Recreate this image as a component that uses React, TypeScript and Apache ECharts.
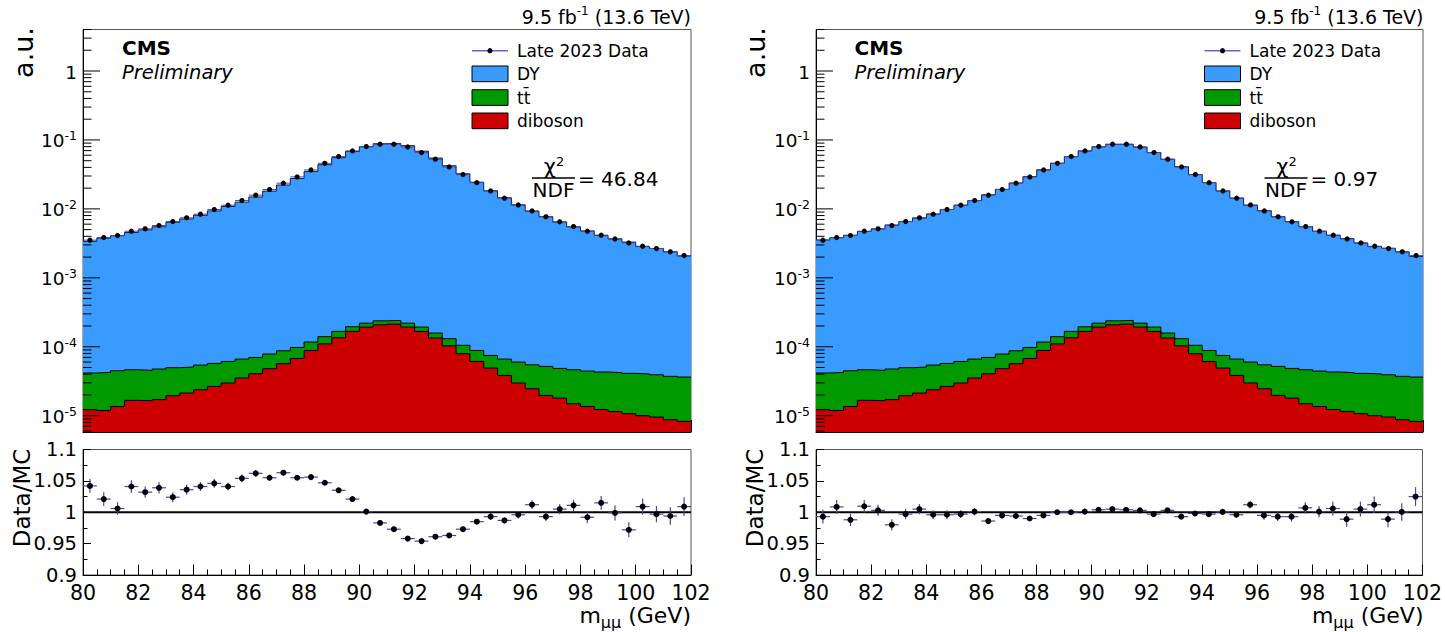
import React, { useEffect, useRef } from 'react';
import * as echarts from 'echarts';

// ---------- data ----------
const binHalfWidth = 0.25;
const massBinCenters = Array.from({ length: 44 }, (_, i) => 80.25 + 0.5 * i);
const massTicks = [80, 82, 84, 86, 88, 90, 92, 94, 96, 98, 100, 102];
const logTickExponents = [-5, -4, -3, -2, -1, 0];
const ratioTicks = [0.9, 0.95, 1, 1.05, 1.1];

const dataLate2023 = [3.52e-3, 3.84e-3, 4.10e-3, 4.74e-3, 5.13e-3, 5.73e-3, 6.55e-3, 7.41e-3, 8.38e-3, 9.77e-3, 1.13e-2, 1.32e-2, 1.58e-2, 1.91e-2, 2.36e-2, 2.91e-2, 3.67e-2, 4.59e-2, 5.73e-2, 6.93e-2, 8.0e-2, 8.67e-2, 8.67e-2, 7.9e-2, 6.55e-2, 5.25e-2, 4.06e-2, 3.14e-2, 2.40e-2, 1.82e-2, 1.43e-2, 1.14e-2, 9.35e-3, 7.66e-3, 6.48e-3, 5.55e-3, 4.74e-3, 4.16e-3, 3.67e-3, 3.21e-3, 2.87e-3, 2.66e-3, 2.38e-3, 2.10e-3];

const dyLeft = [3.34e-3, 3.72e-3, 4.04e-3, 4.50e-3, 4.92e-3, 5.46e-3, 6.35e-3, 7.10e-3, 8.00e-3, 9.28e-3, 1.079e-2, 1.245e-2, 1.481e-2, 1.802e-2, 2.211e-2, 2.75e-2, 3.463e-2, 4.366e-2, 5.523e-2, 6.77e-2, 7.968e-2, 8.796e-2, 8.886e-2, 8.228e-2, 6.851e-2, 5.444e-2, 4.207e-2, 3.22e-2, 2.431e-2, 1.823e-2, 1.443e-2, 1.139e-2, 9.185e-3, 7.66e-3, 6.40e-3, 5.44e-3, 4.74e-3, 4.06e-3, 3.63e-3, 3.26e-3, 2.80e-3, 2.63e-3, 2.35e-3, 2.04e-3];

const dyRight = [3.50e-3, 3.77e-3, 4.10e-3, 4.65e-3, 5.07e-3, 5.80e-3, 6.52e-3, 7.32e-3, 8.36e-3, 9.75e-3, 1.127e-2, 1.312e-2, 1.595e-2, 1.912e-2, 2.365e-2, 2.929e-2, 3.676e-2, 4.576e-2, 5.713e-2, 6.903e-2, 7.946e-2, 8.603e-2, 8.611e-2, 7.854e-2, 6.551e-2, 5.218e-2, 4.076e-2, 3.136e-2, 2.398e-2, 1.812e-2, 1.429e-2, 1.121e-2, 9.34e-3, 7.66e-3, 6.48e-3, 5.47e-3, 4.69e-3, 4.09e-3, 3.67e-3, 3.15e-3, 2.80e-3, 2.65e-3, 2.34e-3, 2.01e-3];

const ttbar = [2.94e-5, 3.06e-5, 3.13e-5, 2.97e-5, 2.89e-5, 3.04e-5, 3.02e-5, 2.95e-5, 3.04e-5, 3.07e-5, 3.14e-5, 3.10e-5, 2.94e-5, 3.03e-5, 3.08e-5, 3.01e-5, 2.87e-5, 3.0e-5, 3.2e-5, 2.8e-5, 2.7e-5, 3.0e-5, 2.8e-5, 2.7e-5, 2.6e-5, 2.4e-5, 2.8e-5, 2.58e-5, 2.71e-5, 2.57e-5, 2.78e-5, 3.02e-5, 3.02e-5, 3.22e-5, 3.05e-5, 3.15e-5, 3.08e-5, 3.07e-5, 3.06e-5, 3.04e-5, 3.03e-5, 2.97e-5, 2.85e-5, 2.81e-5];

const diboson = [1.22e-5, 1.19e-5, 1.36e-5, 1.67e-5, 1.65e-5, 1.71e-5, 1.95e-5, 2.13e-5, 2.38e-5, 2.66e-5, 2.98e-5, 3.52e-5, 4.06e-5, 4.80e-5, 5.67e-5, 6.76e-5, 8.83e-5, 1.10e-4, 1.35e-4, 1.67e-4, 1.93e-4, 2.08e-4, 2.13e-4, 1.93e-4, 1.67e-4, 1.34e-4, 1.03e-4, 7.92e-5, 6.12e-5, 4.91e-5, 3.84e-5, 2.98e-5, 2.46e-5, 1.97e-5, 1.80e-5, 1.49e-5, 1.36e-5, 1.23e-5, 1.15e-5, 1.07e-5, 1.0e-5, 9.57e-6, 8.75e-6, 8.27e-6];

const ratioLeft = [1.042, 1.021, 1.006, 1.041, 1.032, 1.039, 1.024, 1.036, 1.041, 1.046, 1.041, 1.054, 1.062, 1.055, 1.063, 1.055, 1.056, 1.047, 1.035, 1.021, 1.001, 0.983, 0.973, 0.958, 0.954, 0.961, 0.963, 0.973, 0.985, 0.993, 0.987, 0.996, 1.012, 0.993, 1.005, 1.011, 0.992, 1.015, 0.999, 0.972, 1.009, 0.997, 0.994, 1.009];

const ratioRight = [0.993, 1.0085, 0.988, 1.0096, 1.003, 0.980, 0.997, 1.005, 0.996, 0.996, 0.997, 1.001, 0.986, 0.995, 0.994, 0.990, 0.995, 1.0, 1.0, 1.001, 1.004, 1.005, 1.004, 1.003, 0.997, 1.003, 0.993, 0.998, 0.997, 1.0005, 0.996, 1.012, 0.995, 0.993, 0.993, 1.007, 1.001, 1.006, 0.989, 1.005, 1.012, 0.989, 1.0005, 1.025];

const ratioErr = [0.011, 0.011, 0.010, 0.010, 0.009, 0.009, 0.008, 0.008, 0.007, 0.007, 0.006, 0.006, 0.005, 0.005, 0.004, 0.004, 0.003, 0.003, 0.003, 0.002, 0.002, 0.002, 0.002, 0.002, 0.002, 0.003, 0.003, 0.004, 0.004, 0.005, 0.005, 0.006, 0.007, 0.007, 0.008, 0.009, 0.009, 0.011, 0.012, 0.012, 0.013, 0.013, 0.014, 0.015];

const chi2Left = '46.84';
const chi2Right = '0.97';

// ---------- styling ----------
const FONT = 'DejaVu Sans';
const BLUE = '#3a9bff';
const GREEN = '#009a00';
const RED = '#cc0000';
const ERR = '#4646b0';
const Y_MIN = 5.8e-6;
const Y_MAX = 4;

function stepData(vals: number[]) {
  const pts = vals.map((v, i) => [massBinCenters[i] - binHalfWidth, v]);
  pts.push([massBinCenters[vals.length - 1] + binHalfWidth, vals[vals.length - 1]]);
  return pts;
}

function logTickData() {
  const out: number[][] = [];
  for (let e = -6; e <= 0; e++) {
    for (let k = 1; k <= 9; k++) {
      const v = k * Math.pow(10, e);
      if (v >= Y_MIN && v <= Y_MAX) {
        const major = k === 1 && logTickExponents.includes(e) ? 1 : 0;
        out.push([80, v, major, e]);
      }
    }
  }
  return out;
}

function panelSeries(dy: number[], ratio: number[], gTop: number, gRat: number) {
  const greenTop = diboson.map((d, i) => d + ttbar[i]);
  const total = dy.map((v, i) => v + greenTop[i]);
  return [
    {
      type: 'line', xAxisIndex: gTop, yAxisIndex: gTop, data: stepData(total), step: 'end',
      symbol: 'none', silent: true, lineStyle: { color: '#1a1a40', width: 1 },
      areaStyle: { color: BLUE, opacity: 1, origin: 'start' },
    },
    {
      type: 'line', xAxisIndex: gTop, yAxisIndex: gTop, data: stepData(greenTop), step: 'end',
      symbol: 'none', silent: true, lineStyle: { color: '#000', width: 1 },
      areaStyle: { color: GREEN, opacity: 1, origin: 'start' },
    },
    {
      type: 'line', xAxisIndex: gTop, yAxisIndex: gTop, data: stepData(diboson), step: 'end',
      symbol: 'none', silent: true, lineStyle: { color: '#000', width: 1 },
      areaStyle: { color: RED, opacity: 1, origin: 'start' },
    },
    {
      type: 'custom', xAxisIndex: gTop, yAxisIndex: gTop, silent: true, z: 5,
      data: massBinCenters.map((c, i) => [c, dataLate2023[i]]),
      renderItem: (params: any, api: any) => {
        const x = api.value(0), y = api.value(1);
        const l = api.coord([x - binHalfWidth, y]);
        const r = api.coord([x + binHalfWidth, y]);
        const c = api.coord([x, y]);
        return {
          type: 'group', children: [
            { type: 'line', shape: { x1: l[0], y1: l[1], x2: r[0], y2: r[1] }, style: { stroke: ERR, lineWidth: 1 } },
            { type: 'circle', shape: { cx: c[0], cy: c[1], r: 2.6 }, style: { fill: '#000' } },
          ],
        };
      },
    },
    {
      type: 'custom', xAxisIndex: gTop, yAxisIndex: gTop, silent: true, z: 6,
      data: logTickData(),
      renderItem: (params: any, api: any) => {
        const v = api.value(1);
        const major = api.value(2) === 1;
        const e = api.value(3);
        const p = api.coord([80, v]);
        const children: any[] = [
          { type: 'line', shape: { x1: p[0], y1: p[1], x2: p[0] + (major ? 17 : 8.5), y2: p[1] }, style: { stroke: '#000', lineWidth: 1 } },
        ];
        if (major) {
          children.push({
            type: 'text', x: p[0] - 6, y: p[1] + 1,
            style: {
              text: e === 0 ? '1' : '10{s|-' + (-e) + '}',
              align: 'right', verticalAlign: 'middle', fontSize: 18.5, fontFamily: FONT, fill: '#000',
              lineHeight: 24,
              rich: { s: { fontSize: 12.5, fontFamily: FONT, verticalAlign: 'top', lineHeight: 12, fill: '#000' } },
            },
          });
        }
        return { type: 'group', children };
      },
    },
    {
      type: 'line', xAxisIndex: gRat, yAxisIndex: gRat, data: [[80, 1], [102, 1]],
      symbol: 'none', silent: true, lineStyle: { color: '#000', width: 2 }, z: 3,
    },
    {
      type: 'custom', xAxisIndex: gRat, yAxisIndex: gRat, silent: true, z: 5,
      data: massBinCenters.map((c, i) => [c, ratio[i], ratioErr[i]]),
      renderItem: (params: any, api: any) => {
        const x = api.value(0), y = api.value(1), e = api.value(2);
        const l = api.coord([x - binHalfWidth, y]);
        const r = api.coord([x + binHalfWidth, y]);
        const t = api.coord([x, y + e]);
        const b = api.coord([x, y - e]);
        const c = api.coord([x, y]);
        return {
          type: 'group', children: [
            { type: 'line', shape: { x1: l[0], y1: l[1], x2: r[0], y2: r[1] }, style: { stroke: ERR, lineWidth: 1.2 } },
            { type: 'line', shape: { x1: t[0], y1: t[1], x2: b[0], y2: b[1] }, style: { stroke: ERR, lineWidth: 1.2 } },
            { type: 'circle', shape: { cx: c[0], cy: c[1], r: 3 }, style: { fill: '#000' } },
          ],
        };
      },
    },
  ];
}

function xAxisCfg(gridIndex: number, withLabels: boolean, major: number, minor: number) {
  return {
    type: 'value', gridIndex, min: massTicks[0], max: massTicks[massTicks.length - 1], interval: 2,
    axisLine: { show: true, lineStyle: { color: '#000', width: 1 } },
    axisTick: { show: true, inside: true, length: major, lineStyle: { color: '#000', width: 1 } },
    minorTick: { show: true, splitNumber: 4, length: minor, lineStyle: { color: '#000', width: 1 } },
    splitLine: { show: false }, minorSplitLine: { show: false },
    axisLabel: withLabels
      ? { show: true, fontSize: 20.5, fontFamily: FONT, color: '#000', margin: 7 }
      : { show: false },
  };
}

function logYAxis(gridIndex: number) {
  return {
    type: 'log', logBase: 10, gridIndex, min: Y_MIN, max: Y_MAX,
    axisLine: { show: true, lineStyle: { color: '#000', width: 1 } },
    axisTick: { show: false }, minorTick: { show: false },
    axisLabel: { show: false }, splitLine: { show: false },
  };
}

function ratioYAxis(gridIndex: number) {
  return {
    type: 'value', gridIndex, min: ratioTicks[0], max: ratioTicks[ratioTicks.length - 1], interval: 0.05,
    axisLine: { show: true, lineStyle: { color: '#000', width: 1 } },
    axisTick: { show: true, inside: true, length: 8, lineStyle: { color: '#000', width: 1 } },
    minorTick: { show: true, splitNumber: 2, length: 4.5, lineStyle: { color: '#000', width: 1 } },
    splitLine: { show: false }, minorSplitLine: { show: false },
    axisLabel: { show: true, fontSize: 19.5, fontFamily: FONT, color: '#000', margin: 6 },
  };
}

function txt(x: number, y: number, text: string, extra: any = {}, rot = 0) {
  return {
    type: 'text', x, y, rotation: rot, silent: true,
    style: Object.assign({ text, fill: '#000', fontFamily: FONT, fontSize: 17, align: 'left', verticalAlign: 'middle' }, extra),
  };
}

function panelGraphics(dx: number, chi2: string) {
  const legendX = 472 + dx;
  return [
    txt(23 + dx, 52.5, 'a.u.', { fontSize: 27, align: 'center' }, Math.PI / 2),
    txt(22 + dx, 498, 'Data/MC', { fontSize: 23, align: 'center' }, Math.PI / 2),
    txt(122 + dx, 47.5, 'CMS', { fontSize: 20, fontWeight: 'bold' }),
    txt(122 + dx, 72, 'Preliminary', { fontSize: 19.5, fontStyle: 'italic' }),
    txt(691 + dx, 16.5, '9.5 fb{s|-1} (13.6 TeV)', {
      fontSize: 19, align: 'right', lineHeight: 24,
      rich: { s: { fontSize: 12, fontFamily: FONT, verticalAlign: 'top', lineHeight: 12, fill: '#000' } },
    }),
    { type: 'line', silent: true, shape: { x1: legendX, y1: 50.7, x2: legendX + 36, y2: 50.7 }, style: { stroke: '#6464c8', lineWidth: 1.5 } },
    { type: 'circle', silent: true, shape: { cx: legendX + 18, cy: 50.7, r: 2.6 }, style: { fill: '#000' } },
    txt(517 + dx, 50.5, 'Late 2023 Data'),
    { type: 'rect', silent: true, shape: { x: legendX, y: 66, width: 36, height: 15.7 }, style: { fill: BLUE, stroke: '#000', lineWidth: 1 } },
    txt(517 + dx, 74, 'DY'),
    { type: 'rect', silent: true, shape: { x: legendX, y: 89.7, width: 36, height: 15.7 }, style: { fill: GREEN, stroke: '#000', lineWidth: 1 } },
    txt(517 + dx, 97.5, 't\u0074\u0304'),
    { type: 'rect', silent: true, shape: { x: legendX, y: 113, width: 36, height: 15.7 }, style: { fill: RED, stroke: '#000', lineWidth: 1 } },
    txt(517 + dx, 121, 'diboson'),
    txt(554 + dx, 167, '\u03c7{s|2}', {
      fontSize: 21, align: 'center', lineHeight: 24,
      rich: { s: { fontSize: 13, fontFamily: FONT, verticalAlign: 'top', lineHeight: 13, fill: '#000' } },
    }),
    { type: 'line', silent: true, shape: { x1: 532 + dx, y1: 178, x2: 575 + dx, y2: 178 }, style: { stroke: '#000', lineWidth: 1.5 } },
    txt(553.5 + dx, 190, 'NDF', { fontSize: 20, align: 'center' }),
    txt(578 + dx, 178.5, '= ' + chi2, { fontSize: 20 }),
    txt(691 + dx, 615, 'm{sub|\u03bc\u03bc} (GeV)', {
      fontSize: 22, align: 'right', lineHeight: 30,
      rich: { sub: { fontSize: 16, fontFamily: FONT, verticalAlign: 'bottom', lineHeight: 15, fill: '#000' } },
    }),
  ];
}

export default function App() {
  const ref = useRef<HTMLDivElement>(null);
  useEffect(() => {
    document.body.style.margin = '0';
    const chart = echarts.init(ref.current!, null, { renderer: 'svg' });
    const dxR = 732.5;
    const option: any = {
      animation: false,
      backgroundColor: '#fff',
      grid: [
        { left: 83, top: 29.5, width: 608, height: 402.5, show: true, borderColor: '#555', borderWidth: 1, backgroundColor: 'transparent' },
        { left: 83, top: 449.5, width: 608, height: 125.5, show: true, borderColor: '#555', borderWidth: 1, backgroundColor: 'transparent' },
        { left: 816, top: 29.5, width: 607, height: 402.5, show: true, borderColor: '#555', borderWidth: 1, backgroundColor: 'transparent' },
        { left: 816, top: 449.5, width: 607, height: 125.5, show: true, borderColor: '#555', borderWidth: 1, backgroundColor: 'transparent' },
      ],
      xAxis: [xAxisCfg(0, false, 12, 6), xAxisCfg(1, true, 10.5, 5.5), xAxisCfg(2, false, 12, 6), xAxisCfg(3, true, 10.5, 5.5)],
      yAxis: [logYAxis(0), ratioYAxis(1), logYAxis(2), ratioYAxis(3)],
      series: [...panelSeries(dyLeft, ratioLeft, 0, 1), ...panelSeries(dyRight, ratioRight, 2, 3)],
      graphic: { elements: [...panelGraphics(0, chi2Left), ...panelGraphics(dxR, chi2Right)] },
    };
    chart.setOption(option);
    return () => chart.dispose();
  }, []);
  return <div ref={ref} style={{ width: 1445, height: 632 }} />;
}
